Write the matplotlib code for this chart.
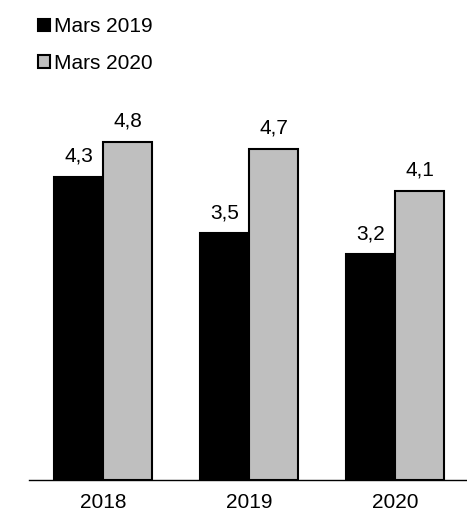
import matplotlib
matplotlib.use("Agg")
import matplotlib.pyplot as plt
from matplotlib.patches import Patch
import numpy as np

plt.rcParams["font.family"] = ["Liberation Sans", "DejaVu Sans"]

years = ["2018", "2019", "2020"]
mars_2019 = [4.3, 3.5, 3.2]
mars_2020 = [4.8, 4.7, 4.1]
series_names = ["Mars 2019", "Mars 2020"]

W, H = 467, 514
fig = plt.figure(figsize=(W / 100, H / 100), dpi=100)
ax = fig.add_axes([29 / W, 34 / H, 1 - 29 / W, 480 / H])

x = np.arange(len(years))
w = 0.335
b1 = ax.bar(x - w / 2, mars_2019, w, color="black", edgecolor="black", linewidth=1.5)
b2 = ax.bar(x + w / 2, mars_2020, w, color="#bfbfbf", edgecolor="black", linewidth=1.5)

for bars in (b1, b2):
    for r in bars:
        v = r.get_height()
        ax.annotate(f"{v:.1f}".replace(".", ","), (r.get_x() + r.get_width() / 2, v),
                    xytext=(0, 8), textcoords="offset points",
                    ha="center", va="bottom", fontsize=15)

ax.set_xlim(-0.507, 2.49)
ax.set_ylim(0, 480 / 70.5)
for s in ("top", "right", "left"):
    ax.spines[s].set_visible(False)
ax.spines["bottom"].set_linewidth(1.0)
ax.set_yticks([])
ax.set_xticks(x)
ax.set_xticklabels(years, fontsize=15)
ax.tick_params(axis="x", length=0, pad=9)

handles = [Patch(facecolor="black", edgecolor="black", linewidth=1.5),
           Patch(facecolor="#bfbfbf", edgecolor="black", linewidth=1.5)]
fig.legend(handles, series_names, loc="upper left", bbox_to_anchor=(30 / W, 1 - 9 / H),
           frameon=False, fontsize=15, handlelength=0.55, handleheight=0.55,
           handletextpad=0.2, labelspacing=0.85, borderaxespad=0)

fig.savefig("out.png", dpi=100)
